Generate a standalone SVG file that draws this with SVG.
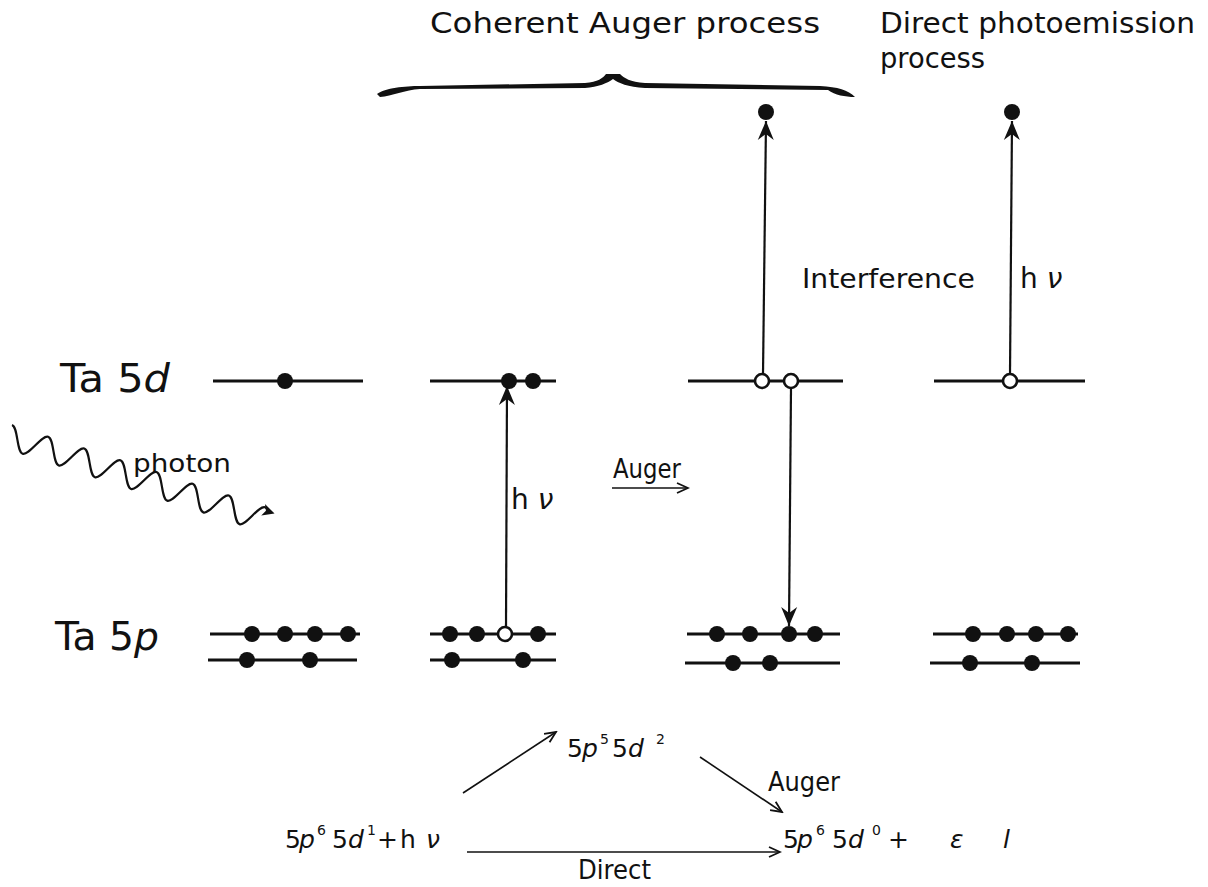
<svg xmlns="http://www.w3.org/2000/svg" width="1208" height="887" viewBox="0 0 1208 887">
<defs>
<style>
.t{font-family:"DejaVu Sans","Liberation Sans",sans-serif;fill:#111}
.i{font-style:italic}
.lv{stroke:#111;stroke-width:3;fill:none}
.ar{stroke:#111;stroke-width:2.2;fill:none}
.thin{stroke-width:1.6}
.dot{fill:#111}
.hole{fill:#fff;stroke:#111;stroke-width:2.6}
</style>
<marker id="ah" viewBox="-20 -9 21 18" refX="0" refY="0" markerWidth="21" markerHeight="18" markerUnits="userSpaceOnUse" orient="auto">
<path d="M0,0 L-19,-8 L-13,0 L-19,8 Z" fill="#111"/>
</marker>
<marker id="la" viewBox="-12 -7 14 14" refX="0" refY="0" markerWidth="14" markerHeight="14" markerUnits="userSpaceOnUse" orient="auto">
<path d="M-11,-5 L0,0 L-11,5" fill="none" stroke="#111" stroke-width="1.8"/>
</marker>
</defs>
<rect width="1208" height="887" fill="#fff"/>

<g id="titles">
<text class="t" x="430" y="33" font-size="29" textLength="390" lengthAdjust="spacingAndGlyphs">Coherent Auger process</text>
<text class="t" x="880" y="33" font-size="29" textLength="315" lengthAdjust="spacingAndGlyphs">Direct photoemission</text>
<text class="t" x="880" y="68" font-size="29" textLength="105" lengthAdjust="spacingAndGlyphs">process</text>
</g>

<g id="brace">
<path d="M377,94 C385,88 405,86 420,86 L585,83 C598,82 603,78 606,74 L620,74 C624,78 630,82 645,83 L820,86 C838,87 848,90 855,97 C845,97 835,95 828,90 L645,88 C628,87 618,83 613,79 C608,83 598,87 585,88 L420,89 C405,90 392,96 380,97 Z" fill="#111"/>
</g>

<g id="labels">
<text class="t" x="60" y="392" font-size="39" textLength="110" lengthAdjust="spacingAndGlyphs">Ta 5<tspan class="i">d</tspan></text>
<text class="t" x="55" y="650" font-size="39" textLength="104" lengthAdjust="spacingAndGlyphs">Ta 5<tspan class="i">p</tspan></text>
<text class="t" x="133" y="472" font-size="25" textLength="98" lengthAdjust="spacingAndGlyphs">photon</text>
<text class="t" x="802" y="288" font-size="27" textLength="173" lengthAdjust="spacingAndGlyphs">Interference</text>
<text class="t" x="1020" y="288" font-size="28">h <tspan class="i">ν</tspan></text>
<text class="t" x="511" y="509" font-size="28">h <tspan class="i">ν</tspan></text>
<text class="t" x="613" y="478" font-size="26" textLength="68" lengthAdjust="spacingAndGlyphs">Auger</text>
</g>

<g id="photon">
<g transform="translate(12,425) rotate(18)">
<path d="M0,0 c6.5,0 12.5,24 19,24 s12.5,-24 19,-24 s12.5,24 19,24 s12.5,-24 19,-24 s12.5,24 19,24 s12.5,-24 19,-24 s12.5,24 19,24 s12.5,-24 19,-24 s12.5,24 19,24 s12.5,-24 19,-24 s12.5,24 19,24 s12.5,-24 19,-24 s12.5,24 19,24 s12.5,-24 19,-24 l3,1" fill="none" stroke="#111" stroke-width="2.2"/>
<path d="M277,3 L265,-3 L268,3 L265,9 Z" fill="#111"/>
</g>
</g>

<g id="col1">
<line class="lv" x1="213" y1="381" x2="363" y2="381"/>
<circle class="dot" cx="285" cy="381" r="8"/>
<line class="lv" x1="210" y1="634" x2="360" y2="634"/>
<line class="lv" x1="208" y1="660" x2="357" y2="660"/>
<circle class="dot" cx="252" cy="634" r="8"/>
<circle class="dot" cx="285" cy="634" r="8"/>
<circle class="dot" cx="315" cy="634" r="8"/>
<circle class="dot" cx="348" cy="634" r="8"/>
<circle class="dot" cx="247" cy="660" r="8"/>
<circle class="dot" cx="310" cy="660" r="8"/>
</g>

<g id="col2">
<line class="lv" x1="430" y1="381" x2="556" y2="381"/>
<circle class="dot" cx="509" cy="381" r="8"/>
<circle class="dot" cx="533" cy="381" r="8"/>
<line class="lv" x1="430" y1="634" x2="556" y2="634"/>
<line class="lv" x1="430" y1="660" x2="556" y2="660"/>
<circle class="dot" cx="450" cy="634" r="8"/>
<circle class="dot" cx="477" cy="634" r="8"/>
<circle class="dot" cx="538" cy="634" r="8"/>
<circle class="dot" cx="452" cy="660" r="8"/>
<circle class="dot" cx="523" cy="660" r="8"/>
</g>

<g id="col3">
<line class="lv" x1="688" y1="381" x2="843" y2="381"/>
<line class="lv" x1="687" y1="634" x2="840" y2="634"/>
<line class="lv" x1="685" y1="663" x2="840" y2="663"/>
<circle class="dot" cx="717" cy="634" r="8"/>
<circle class="dot" cx="750" cy="634" r="8"/>
<circle class="dot" cx="789" cy="634" r="8"/>
<circle class="dot" cx="815" cy="634" r="8"/>
<circle class="dot" cx="733" cy="663" r="8"/>
<circle class="dot" cx="770" cy="663" r="8"/>
<circle class="dot" cx="766" cy="112" r="8"/>
</g>

<g id="col4">
<line class="lv" x1="934" y1="381" x2="1085" y2="381"/>
<line class="lv" x1="933" y1="634" x2="1078" y2="634"/>
<line class="lv" x1="930" y1="663" x2="1080" y2="663"/>
<circle class="dot" cx="973" cy="634" r="8"/>
<circle class="dot" cx="1007" cy="634" r="8"/>
<circle class="dot" cx="1036" cy="634" r="8"/>
<circle class="dot" cx="1068" cy="634" r="8"/>
<circle class="dot" cx="970" cy="663" r="8"/>
<circle class="dot" cx="1032" cy="663" r="8"/>
<circle class="dot" cx="1012" cy="112" r="8"/>
</g>

<g id="connectors">
<line class="ar" x1="506" y1="627" x2="507" y2="386" marker-end="url(#ah)"/>
<line class="ar" x1="763" y1="374" x2="766" y2="121" marker-end="url(#ah)"/>
<line class="ar" x1="791" y1="388" x2="789" y2="626" marker-end="url(#ah)"/>
<line class="ar" x1="1010" y1="374" x2="1012" y2="121" marker-end="url(#ah)"/>
<line class="ar thin" x1="612" y1="488" x2="688" y2="488" marker-end="url(#la)"/>
<line class="ar thin" x1="463" y1="793" x2="556" y2="732" marker-end="url(#la)"/>
<line class="ar thin" x1="700" y1="757" x2="782" y2="812" marker-end="url(#la)"/>
<line class="ar thin" x1="467" y1="852" x2="780" y2="852" marker-end="url(#la)"/>
</g>

<g id="holes">
<circle class="hole" cx="505" cy="634" r="7"/>
<circle class="hole" cx="762" cy="381" r="7"/>
<circle class="hole" cx="791" cy="381" r="7"/>
<circle class="hole" cx="1010" cy="381" r="7"/>
</g>

<g id="formulas">
<text class="t" y="848" font-size="25"><tspan x="285">5</tspan><tspan class="i" x="299">p</tspan><tspan font-size="14" x="317" y="835">6</tspan><tspan x="332" y="848">5</tspan><tspan class="i" x="348">d</tspan><tspan font-size="14" x="367" y="835">1</tspan><tspan x="377" y="848">+</tspan><tspan x="400">h</tspan><tspan class="i" x="426">ν</tspan></text>
<text class="t" y="757" font-size="25"><tspan x="567">5</tspan><tspan class="i" x="582">p</tspan><tspan font-size="14" x="600" y="744">5</tspan><tspan x="612" y="757">5</tspan><tspan class="i" x="628">d</tspan><tspan font-size="14" x="656" y="744">2</tspan></text>
<text class="t" x="768" y="791" font-size="26" textLength="72" lengthAdjust="spacingAndGlyphs">Auger</text>
<text class="t" y="848" font-size="25"><tspan x="783">5</tspan><tspan class="i" x="797">p</tspan><tspan font-size="14" x="816" y="835">6</tspan><tspan x="832" y="848">5</tspan><tspan class="i" x="848">d</tspan><tspan font-size="14" x="872" y="835">0</tspan><tspan x="888" y="848">+</tspan><tspan class="i" x="950">ε</tspan><tspan class="i" x="1003">l</tspan></text>
<text class="t" x="578" y="879" font-size="26" textLength="73" lengthAdjust="spacingAndGlyphs">Direct</text>
</g>
</svg>
